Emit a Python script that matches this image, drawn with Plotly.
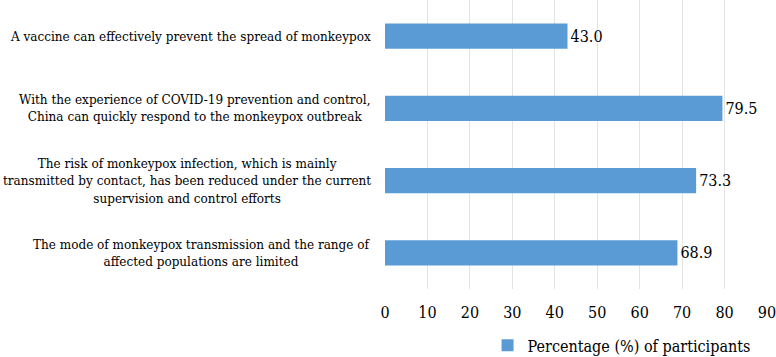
import plotly.graph_objects as go

categories = [
    "A vaccine can effectively prevent the spread of monkeypox",
    "With the experience of COVID-19 prevention and control,<br>China can quickly respond to the monkeypox outbreak",
    "The risk of monkeypox infection, which is mainly<br>transmitted by contact, has been reduced under the current<br>supervision and control efforts",
    "The mode of monkeypox transmission and the range of<br>affected populations are limited",
]
values = [43.0, 79.5, 73.3, 68.9]
series_name = "Percentage (%) of participants"
x_ticks = [0, 10, 20, 30, 40, 50, 60, 70, 80, 90]

FONT = "DejaVu Serif Condensed"

fig = go.Figure()
fig.add_trace(go.Bar(
    y=categories, x=values, orientation="h", name=series_name,
    marker=dict(color="#5B9BD5", line=dict(width=0)),
    text=[f"{v:.1f}" for v in values], textposition="outside",
    textfont=dict(family=FONT, size=16, color="black"),
    cliponaxis=False,
))

for c in categories:
    fig.add_annotation(
        x=0, xref="paper", y=c, yref="y", text=c, showarrow=False,
        xanchor="right", yanchor="middle", align="center", xshift=-12,
        font=dict(family=FONT, size=13.4, color="black"),
    )

fig.update_layout(
    width=776, height=357,
    margin=dict(l=385, r=9, t=0, b=68, autoexpand=False),
    paper_bgcolor="white", plot_bgcolor="white",
    bargap=0.65,
    showlegend=True,
    legend=dict(orientation="h", x=0.97, xanchor="right", y=-0.195, yanchor="middle",
                font=dict(family=FONT, size=16, color="black"),
                itemwidth=30),
    font=dict(family=FONT, size=14, color="black"),
)
fig.update_xaxes(range=[0, 90], tickvals=x_ticks, showgrid=True, gridcolor="#e3e3e3",
                 gridwidth=1, zeroline=False, showline=False, ticks="",
                 automargin=False,
                 ticklabeloverflow="allow", ticklabelstandoff=12,
                 tickfont=dict(family=FONT, size=16, color="black"))
fig.update_yaxes(autorange="reversed", showticklabels=False, showgrid=False,
                 zeroline=False, showline=False, automargin=False)

fig.write_html("out.html", config={"displayModeBar": False},
               post_script="document.body.style.margin='0';")
